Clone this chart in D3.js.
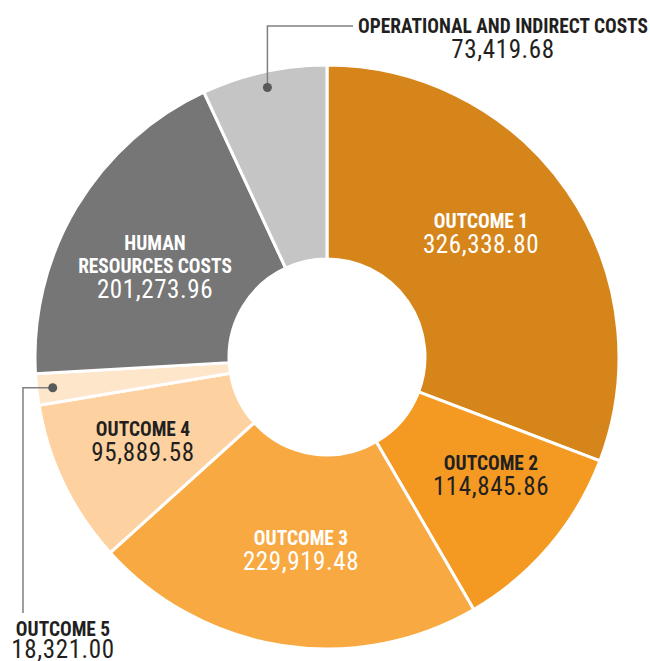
<!DOCTYPE html>
<html>
<head>
<meta charset="utf-8">
<script src="https://cdn.jsdelivr.net/npm/d3@7"></script>
<style>
  html, body { margin: 0; padding: 0; background: #ffffff; }
  svg { display: block; }
  .title { font-family: "Liberation Sans Narrow", "Roboto Condensed", "Arial Narrow", sans-serif; font-weight: 700; font-size: 19.4px; }
  .value { font-family: "Liberation Sans Narrow", "Roboto Condensed", "Arial Narrow", sans-serif; font-weight: 400; font-size: 25px; letter-spacing: 0.6px; }
</style>
</head>
<body>
<svg id="chart" width="650" height="661"></svg>
<script>
// Budget breakdown, clockwise from 12 o'clock
const categories = [
  "OUTCOME 1",
  "OUTCOME 2",
  "OUTCOME 3",
  "OUTCOME 4",
  "OUTCOME 5",
  "HUMAN RESOURCES COSTS",
  "OPERATIONAL AND INDIRECT COSTS"
];
const values = [326338.80, 114845.86, 229919.48, 95889.58, 18321.00, 201273.96, 73419.68];
const colors = ["#d6851a", "#f49a22", "#f8a942", "#fdd2a0", "#fee6cb", "#767676", "#c6c5c6"];
const textColors = ["#ffffff", "#231f20", "#ffffff", "#231f20", "#231f20", "#ffffff", "#231f20"];
// title lines per slice (the HR label wraps onto two lines)
const titleLines = [
  ["OUTCOME 1"],
  ["OUTCOME 2"],
  ["OUTCOME 3"],
  ["OUTCOME 4"],
  ["OUTCOME 5"],
  ["HUMAN", "RESOURCES COSTS"],
  ["OPERATIONAL AND INDIRECT COSTS"]
];

const fmt = d3.format(",.2f");
const svg = d3.select("#chart");
const cx = 327, cy = 357;
const outerR = 292, innerR = 98;

const data = categories.map((c, i) => ({ name: c, value: values[i], i }));
const pie = d3.pie().value(d => d.value).sort(null);
const arcs = pie(data);

const arc = d3.arc().innerRadius(innerR).outerRadius(outerR);
const g = svg.append("g").attr("transform", `translate(${cx},${cy})`);

g.selectAll("path.slice")
  .data(arcs)
  .join("path")
  .attr("class", "slice")
  .attr("d", arc)
  .attr("fill", d => colors[d.data.i])
  .attr("stroke", "#ffffff")
  .attr("stroke-width", 3)
  .attr("stroke-linejoin", "miter");

// Inside labels: title baseline of each block
const inside = {
  0: { x: 481, y: 228 },
  1: { x: 491, y: 470 },
  2: { x: 301, y: 545 },
  3: { x: 143, y: 436 },
  5: { x: 155, y: 250 }
};
const lineGap = 23;   // between stacked title lines
const valueGap = 25;  // from last title baseline to value baseline

Object.keys(inside).forEach(k => {
  const i = +k;
  const p = inside[i];
  const t = svg.append("g");
  titleLines[i].forEach((ln, j) => {
    t.append("text").attr("class", "title")
      .attr("x", p.x).attr("y", p.y + j * lineGap)
      .attr("text-anchor", "middle")
      .attr("fill", textColors[i])
      .text(ln);
  });
  t.append("text").attr("class", "value")
    .attr("x", p.x).attr("y", p.y + (titleLines[i].length - 1) * lineGap + valueGap)
    .attr("text-anchor", "middle")
    .attr("fill", textColors[i])
    .text(fmt(values[i]));
});

// Callouts for the thin slices, anchored at each slice's mid-angle
const dotR = 276;
const midPoint = a => {
  const m = (a.startAngle + a.endAngle) / 2;
  return [cx + dotR * Math.sin(m), cy - dotR * Math.cos(m)];
};

// Operational and indirect costs: up and to the right
{
  const [dx, dy] = midPoint(arcs[6]);
  svg.append("path")
    .attr("d", `M${dx},${dy} V26 H353`)
    .attr("fill", "none").attr("stroke", "#808080").attr("stroke-width", 1.5);
  svg.append("circle").attr("cx", dx).attr("cy", dy).attr("r", 4.5).attr("fill", "#58595b");
  svg.append("text").attr("class", "title").attr("x", 503).attr("y", 33)
    .attr("text-anchor", "middle").attr("fill", "#231f20").text(titleLines[6][0]);
  svg.append("text").attr("class", "value").attr("x", 503).attr("y", 58)
    .attr("text-anchor", "middle").attr("fill", "#231f20").text(fmt(values[6]));
}

// Outcome 5: left and down
{
  const [dx, dy] = midPoint(arcs[4]);
  svg.append("path")
    .attr("d", `M${dx},${dy} H23 V613`)
    .attr("fill", "none").attr("stroke", "#808080").attr("stroke-width", 1.5);
  svg.append("circle").attr("cx", dx).attr("cy", dy).attr("r", 4.5).attr("fill", "#58595b");
  svg.append("text").attr("class", "title").attr("x", 63).attr("y", 636)
    .attr("text-anchor", "middle").attr("fill", "#231f20").text(titleLines[4][0]);
  svg.append("text").attr("class", "value").attr("x", 63).attr("y", 658)
    .attr("text-anchor", "middle").attr("fill", "#231f20").text(fmt(values[4]));
}
</script>
</body>
</html>
